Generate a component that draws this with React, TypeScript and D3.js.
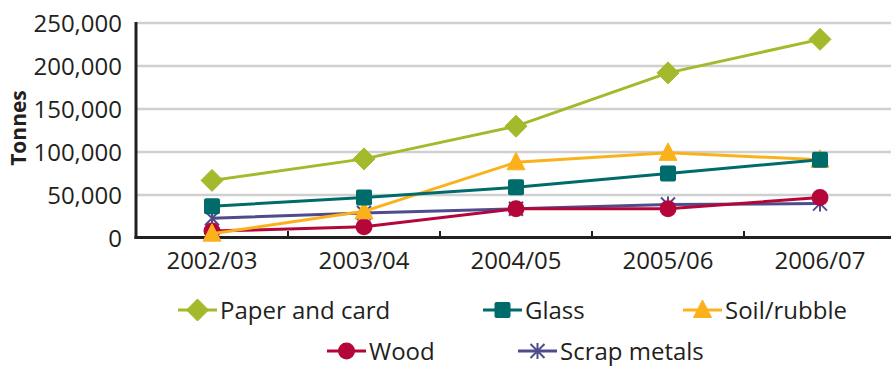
import React from "react";
import * as d3 from "d3";

const categories = ["2002/03", "2003/04", "2004/05", "2005/06", "2006/07"];
const paperAndCard = [67000, 92000, 130000, 192000, 231000];
const glass = [37000, 47000, 59000, 75000, 91000];
const soilRubble = [5000, 31000, 88000, 99000, 91000];
const wood = [8000, 13000, 34000, 34000, 47000];
const scrapMetals = [23000, 29000, 34000, 39000, 40000];
const yTicks = [0, 50000, 100000, 150000, 200000, 250000];

type Series = { name: string; values: number[]; color: string; marker: string };

const series: Series[] = [
  { name: "Paper and card", values: paperAndCard, color: "#a4b92b", marker: "diamond" },
  { name: "Glass", values: glass, color: "#006b6b", marker: "square" },
  { name: "Soil/rubble", values: soilRubble, color: "#fbb11c", marker: "triangle" },
  { name: "Wood", values: wood, color: "#b5063a", marker: "circle" },
  { name: "Scrap metals", values: scrapMetals, color: "#4f4c8c", marker: "star" },
];

const W = 891;
const H = 366;
const FONT = "'Open Sans', 'Noto Sans', sans-serif";
const TXT = "#231f20";

function Marker({ type, x, y, color }: { type: string; x: number; y: number; color: string }) {
  if (type === "diamond") {
    const r = 11;
    return <path d={`M${x},${y - r}L${x + r},${y}L${x},${y + r}L${x - r},${y}Z`} fill={color} stroke={color} strokeWidth={1} strokeLinejoin="round" />;
  }
  if (type === "square") {
    return <rect x={x - 8} y={y - 8} width={16} height={16} rx={2} fill={color} />;
  }
  if (type === "triangle") {
    const w = 9, top = y - 10, bot = y + 7.5;
    return <path d={`M${x},${top}L${x + w},${bot}L${x - w},${bot}Z`} fill={color} stroke={color} strokeWidth={1} strokeLinejoin="round" />;
  }
  if (type === "circle") {
    return <circle cx={x} cy={y} r={8.5} fill={color} />;
  }
  const s = 7;
  return (
    <path
      d={`M${x - s},${y - s}L${x + s},${y + s}M${x - s},${y + s}L${x + s},${y - s}M${x},${y - s - 1}L${x},${y + s + 1}`}
      stroke={color}
      strokeWidth={2}
      fill="none"
    />
  );
}

export default function App() {
  const x = d3.scaleBand<string>().domain(categories).range([136, 896]);
  const y = d3.scaleLinear().domain([0, 250000]).range([238, 23]);
  const cx = (c: string) => (x(c) as number) + x.bandwidth() / 2;
  const fmt = d3.format(",");
  const line = d3
    .line<number>()
    .x((_, i) => cx(categories[i]))
    .y((v) => y(v));

  const legendRows = [
    [
      { s: series[0], x0: 178, yc: 310 },
      { s: series[1], x0: 483, yc: 310 },
      { s: series[2], x0: 683, yc: 310 },
    ],
    [
      { s: series[3], x0: 327, yc: 351 },
      { s: series[4], x0: 518, yc: 351 },
    ],
  ];

  const drawOrder = [4, 3, 2, 1, 0];

  return (
    <svg width={W} height={H} style={{ position: "absolute", left: 0, top: 0, background: "#fff" }} fontFamily={FONT}>
      <rect x={0} y={0} width={W} height={H} fill="#fff" />
      {yTicks.filter((t) => t > 0).map((t) => (
        <line key={t} x1={136} x2={W} y1={y(t)} y2={y(t)} stroke="#d0d0d0" strokeWidth={2.5} />
      ))}
      {yTicks.map((t) => (
        <text key={"l" + t} x={122} y={y(t)} dy="0.36em" textAnchor="end" fontSize={24} fill={TXT}>
          {fmt(t)}
        </text>
      ))}
      <text transform="translate(26,128) rotate(-90)" textAnchor="middle" fontSize={21} fontWeight="bold" fill={TXT}>
        Tonnes
      </text>
      {categories.map((c) => (
        <text key={c} x={cx(c)} y={269} textAnchor="middle" fontSize={24} fill={TXT}>
          {c}
        </text>
      ))}
      {categories.slice(1).map((c) => (
        <line key={"t" + c} x1={x(c) as number} x2={x(c) as number} y1={231} y2={238} stroke={TXT} strokeWidth={2} />
      ))}
      <line x1={136} x2={136} y1={22} y2={239} stroke={TXT} strokeWidth={3} />
      <line x1={134.5} x2={W} y1={237.5} y2={237.5} stroke={TXT} strokeWidth={3} />
      {drawOrder.map((i) => {
        const s = series[i];
        return (
          <g key={s.name}>
            <path d={line(s.values) || ""} fill="none" stroke={s.color} strokeWidth={3} strokeLinejoin="round" />
            {s.values.map((v, j) => (
              <Marker key={j} type={s.marker} x={cx(categories[j])} y={y(v)} color={s.color} />
            ))}
          </g>
        );
      })}
      {legendRows.flat().map(({ s, x0, yc }) => (
        <g key={"lg" + s.name}>
          <line x1={x0} x2={x0 + 39} y1={yc} y2={yc} stroke={s.color} strokeWidth={3} />
          <Marker type={s.marker} x={x0 + 19.5} y={yc} color={s.color} />
          <text x={x0 + 42} y={yc} dy="0.36em" fontSize={24} fill={TXT}>
            {s.name}
          </text>
        </g>
      ))}
    </svg>
  );
}
